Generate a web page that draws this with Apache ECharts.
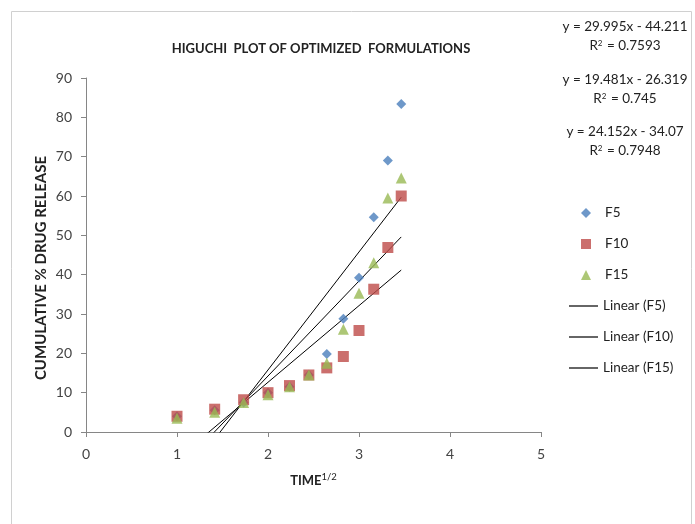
<!DOCTYPE html>
<html><head><meta charset="utf-8">
<script src="https://cdn.jsdelivr.net/npm/echarts@6/dist/echarts.min.js"></script>
<style>html,body{margin:0;padding:0;background:#fff}#c{width:695px;height:524px}</style>
</head><body><div id="c"></div>
<script>
// square root of time
const sqrtTime = [1, 1.414, 1.732, 2, 2.236, 2.449, 2.646, 2.828, 3, 3.162, 3.317, 3.464];
const f5  = [4, 5.5, 7.5, 10, 11.5, 14.5, 19.8, 28.8, 39.2, 54.6, 69, 83.4];
const f10 = [4, 5.8, 8.2, 10, 11.8, 14.5, 16.3, 19.2, 25.8, 36.3, 46.9, 60];
const f15 = [3.5, 5, 7.5, 9.5, 11.5, 14.5, 17.5, 26.1, 35.3, 43, 59.5, 64.6];
const seriesNames = ['F5', 'F10', 'F15'];
const fitSlopes = [29.995, 19.481, 24.152];
const fitIntercepts = [-44.211, -26.319, -34.07];
const fitSlopeText = ['29.995', '19.481', '24.152'];
const fitInterceptText = ['44.211', '26.319', '34.07'];
const fitR2 = ['0.7593', '0.745', '0.7948'];
const xTicks = [0, 1, 2, 3, 4, 5];
const yTicks = [0, 10, 20, 30, 40, 50, 60, 70, 80, 90];

const FONT = 'Lato';
const colors = ['#4a7ebb', '#be4b48', '#98b954'];
const symbols = ['diamond', 'rect', 'triangle'];
const symSizes = [10, 11, 11];
const values = [f5, f10, f15];

const scatterSeries = values.map((v, i) => ({
  name: seriesNames[i],
  type: 'scatter',
  symbol: symbols[i],
  symbolSize: symSizes[i],
  itemStyle: { color: colors[i] },
  data: sqrtTime.map((x, j) => [x, v[j]]),
  z: 3
}));
const xFirst = sqrtTime[0], xLast = sqrtTime[sqrtTime.length - 1];
const lineNames = seriesNames.map(n => 'Linear (' + n + ')');
const lineSeries = seriesNames.map((n, i) => ({
  name: lineNames[i],
  type: 'line',
  symbol: 'none',
  clip: true,
  lineStyle: { color: '#000', width: 1 },
  itemStyle: { color: '#000' },
  data: [[xFirst, fitSlopes[i] * xFirst + fitIntercepts[i]], [xLast, fitSlopes[i] * xLast + fitIntercepts[i]]],
  z: 2
}));

const eqGraphics = [];
const eqY = [20, 73, 125];
for (let i = 0; i < 3; i++) {
  eqGraphics.push({
    type: 'text', x: 625, y: eqY[i],
    style: { text: 'y = ' + fitSlopeText[i] + 'x - ' + fitInterceptText[i], font: '13.5px ' + FONT, fill: '#222', align: 'center' }
  });
  eqGraphics.push({
    type: 'text', x: 625, y: eqY[i] + 19,
    style: {
      text: '{b|R}{s|2}{b| = ' + fitR2[i] + '}',
      align: 'center',
      rich: { b: { font: '13.5px ' + FONT, fill: '#222' }, s: { font: '8px ' + FONT, fill: '#222', verticalAlign: 'top', padding: [0, 1, 6, 0] } }
    }
  });
}

const chart = echarts.init(document.getElementById('c'), null, { renderer: 'canvas' });
chart.setOption({
  backgroundColor: '#fff',
  animation: false,
  textStyle: { fontFamily: FONT },
  title: {
    text: 'HIGUCHI  PLOT OF OPTIMIZED  FORMULATIONS',
    left: 316, top: 37, textAlign: 'center',
    textStyle: { fontFamily: FONT, fontSize: 13, fontWeight: 'bold', color: '#222' }
  },
  grid: { left: 86, right: 154, top: 78, bottom: 92, containLabel: false },
  xAxis: {
    type: 'value', min: xTicks[0], max: xTicks[xTicks.length - 1], interval: 1,
    name: '{n|TIME}{s|1/2}', nameLocation: 'middle', nameGap: 40, nameMoveOverlap: false,
    nameTextStyle: { rich: { n: { fontFamily: FONT, fontSize: 13, fontWeight: 'bold', color: '#222' }, s: { fontFamily: FONT, fontSize: 9.5, color: '#222', verticalAlign: 'top', padding: [0, 0, 7, 0] } } },
    axisLine: { lineStyle: { color: '#868686', width: 1 } },
    axisTick: { show: true, inside: false, length: 5, lineStyle: { color: '#868686' } },
    axisLabel: { fontFamily: FONT, fontSize: 14, color: '#444', margin: 15 },
    splitLine: { show: false }
  },
  yAxis: {
    type: 'value', min: yTicks[0], max: yTicks[yTicks.length - 1], interval: 10,
    name: 'CUMULATIVE % DRUG RELEASE', nameLocation: 'middle', nameGap: 37, nameRotate: 90, nameMoveOverlap: false,
    nameTextStyle: { fontFamily: FONT, fontSize: 15, fontWeight: 'bold', color: '#222', padding: [0, 26, 0, 0] },
    axisLine: { show: true, lineStyle: { color: '#868686', width: 1 } },
    axisTick: { show: true, inside: false, length: 5, lineStyle: { color: '#868686' } },
    axisLabel: { fontFamily: FONT, fontSize: 14, color: '#444', margin: 14 },
    splitLine: { show: false }
  },
  legend: [
    {
      orient: 'vertical', left: 581, top: 206, padding: 0,
      itemWidth: 10, itemHeight: 10, itemGap: 17,
      textStyle: { fontFamily: FONT, fontSize: 13.5, color: '#222', padding: [0, 0, 0, 9] },
      data: seriesNames.map((n, i) => ({ name: n, icon: symbols[i] }))
    },
    {
      orient: 'vertical', left: 569, top: 299, padding: 0,
      itemWidth: 29, itemHeight: 1.2, itemGap: 17,
      textStyle: { fontFamily: FONT, fontSize: 13.5, color: '#222' },
      data: lineNames.map(n => ({ name: n, icon: 'rect' }))
    }
  ],
  graphic: [
    { type: 'rect', shape: { x: 11.5, y: 11.5, width: 680, height: 530 }, style: { fill: 'none', stroke: '#d0d0d0', lineWidth: 1 }, silent: true, z: -1 }
  ].concat(eqGraphics),
  series: scatterSeries.concat(lineSeries)
});
</script>
</body></html>
